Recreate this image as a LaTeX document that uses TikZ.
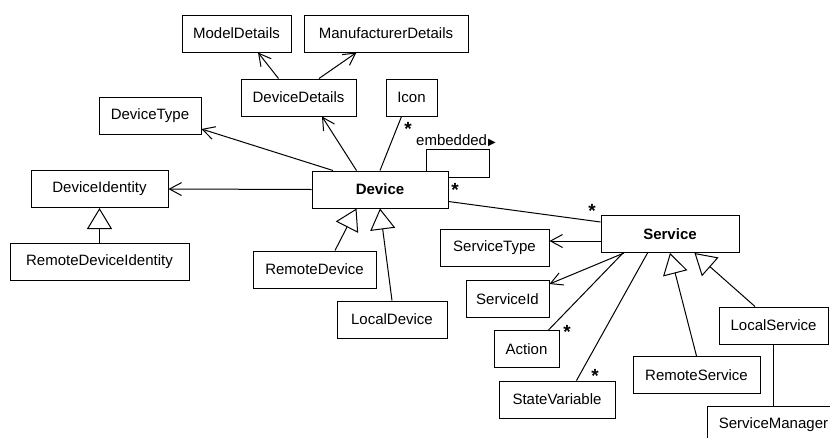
\documentclass[tikz,border=0pt]{standalone}
\usepackage{fontspec}
\setmainfont{Liberation Sans}
\newfontfamily\symfont{DejaVu Sans}
\usetikzlibrary{arrows.meta}
\tikzset{
	cls/.style={draw, line width=1pt, minimum height=37pt, inner sep=0pt, font=\fontsize{15}{18}\selectfont},
	clsbold/.style={cls, font=\fontsize{15}{18}\selectfont\bfseries},
	nav/.style={line width=1pt, -{Straight Barb[length=12pt,width=13pt,line width=1pt]}},
	inh/.style={line width=1pt, -{Triangle[length=21pt,width=25pt,line width=1pt,fill=white]}},
	assoc/.style={line width=1pt},
	mult/.style={inner sep=0pt, anchor=base, font=\fontsize{19}{20}\selectfont\bfseries},
	lbl/.style={inner sep=0pt, anchor=west, font=\fontsize{15}{18}\selectfont}
}

\begin{document}
\begin{tikzpicture}[x=1pt, y=-1pt]
		%%%%% START %%%%%
		
		\fill[white] (0, 0) rectangle (830, 437);
		\clip (0, 0) rectangle (830, 437);
		
		% device side
		\node[cls, minimum width=109pt] (md) at (236.5, 33.5) {ModelDetails};
		\node[cls, minimum width=164pt] (mfd) at (386, 33.5) {ManufacturerDetails};
		\node[cls, minimum width=115pt] (dd) at (298.5, 97.5) {DeviceDetails};
		\node[cls, minimum width=51pt] (icon) at (411.5, 97.5) {Icon};
		\node[cls, minimum width=102pt] (dt) at (150, 116) {DeviceType};
		\node[cls, minimum width=137pt] (di) at (99.5, 189) {DeviceIdentity};
		\node[cls, minimum width=179pt] (rdi) at (99.5, 262) {RemoteDeviceIdentity};
		\node[clsbold, minimum width=136pt] (dev) at (380, 189.5) {Device};
		\node[cls, minimum width=123pt] (rd) at (314.5, 269.5) {RemoteDevice};
		\node[cls, minimum width=110pt] (ld) at (392, 319.5) {LocalDevice};
		
		% service side
		\node[clsbold, minimum width=138pt] (srv) at (670, 234) {Service};
		\node[cls, minimum width=109pt] (st) at (494.5, 248) {ServiceType};
		\node[cls, minimum width=83pt] (sid) at (507.5, 299) {ServiceId};
		\node[cls, minimum width=65pt] (act) at (526.5, 349) {Action};
		\node[cls, minimum width=116pt] (sv) at (557, 399.5) {StateVariable};
		\node[cls, minimum width=127pt] (rs) at (696.5, 375) {RemoteService};
		\node[cls, minimum width=109pt] (ls) at (773.5, 325.5) {LocalService};
		\node[cls, minimum width=132pt] (sm) at (773.5, 424.5) {ServiceManager};
		
		\draw[nav] ([xshift=-20pt]dd.north) -- ([xshift=21.5pt]md.south);
		\draw[nav] ([xshift=20.5pt]dd.north) -- ([xshift=-29.5pt]mfd.south);
		\draw[nav] ([xshift=-23.5pt]dev.north) -- ([xshift=23.5pt]dd.south);
		\draw[assoc] (dev.north) -- ([xshift=-10pt]icon.south);
		\draw[nav] ([xshift=-47pt]dev.north) -- ([yshift=-13pt]dt.east);
		\draw[nav] (dev.west) -- (di.east);
		\draw[inh] (rdi.north) -- (di.south);
		\draw[inh] ([xshift=20.5pt]rd.north) -- ([xshift=-23.5pt]dev.south);
		\draw[inh] (ld.north) -- (dev.south);
		
		% embedded self association
		\coordinate (loop) at (489, 149);
		\draw[assoc] ([xshift=46pt]dev.north) |- (loop) |- ([yshift=12pt]dev.east);
		\node[lbl] (emb) at (416, 141) {embedded\hspace{1pt}{\symfont\fontsize{10}{10}\selectfont ▶}};
		
		\draw[assoc] ([yshift=-12pt]dev.east) -- ([yshift=12pt]srv.west);
		\draw[nav] ([yshift=-7pt]srv.west) -- ([yshift=7pt]st.east);
		\draw[nav] ([xshift=-46pt]srv.south) -- ([yshift=15pt]sid.east);
		\draw[assoc] ([xshift=-47pt]srv.south) -- ([xshift=22pt]act.north);
		\draw[assoc] ([xshift=-22.5pt]srv.south) -- ([xshift=19.5pt]sv.north);
		\draw[inh] (rs.north) -- (srv.south);
		\draw[inh] ([xshift=-18.5pt]ls.north) -- ([xshift=24.5pt]srv.south);
		\draw[assoc] (ls.south) -- (sm.north);
		
		% multiplicities
		\node[mult] (m1) at (408, 135) {*};
		\node[mult] (m2) at (455, 196) {*};
		\node[mult] (m3) at (592, 217) {*};
		\node[mult] (m4) at (567, 338) {*};
		\node[mult] (m5) at (595, 382) {*};
		
		%%%%% END %%%%%
\end{tikzpicture}
\end{document}
